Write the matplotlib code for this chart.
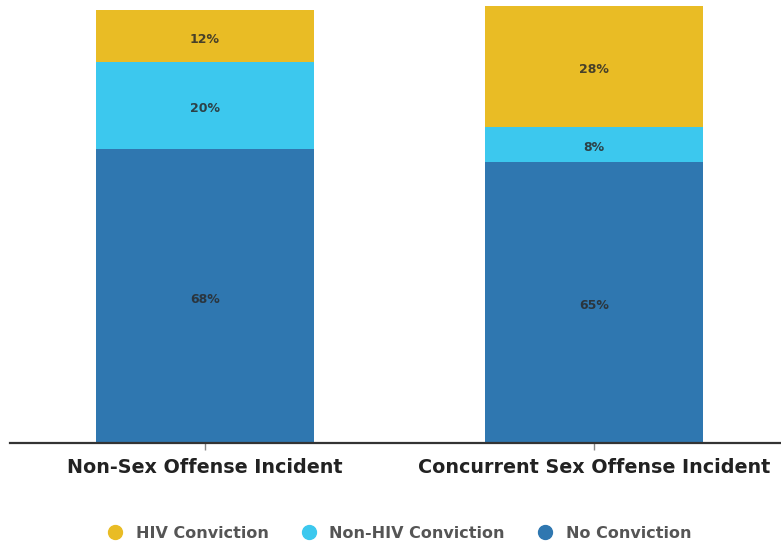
import matplotlib
matplotlib.use("Agg")
import matplotlib.pyplot as plt
from matplotlib.lines import Line2D

categories = ["Non-Sex Offense Incident", "Concurrent Sex Offense Incident"]
series_names = ["No Conviction", "Non-HIV Conviction", "HIV Conviction"]
no_conviction = [68, 65]
non_hiv = [20, 8]
hiv = [12, 28]
legend_order = ["HIV Conviction", "Non-HIV Conviction", "No Conviction"]

colors = {"No Conviction": "#2F77B0", "Non-HIV Conviction": "#3CC8EE", "HIV Conviction": "#E9BC25"}
values = {"No Conviction": no_conviction, "Non-HIV Conviction": non_hiv, "HIV Conviction": hiv}

fig = plt.figure(figsize=(7.81, 5.48), dpi=100)
ax = fig.add_axes([10/781, 105/548, 771/781, 443/548])

x = list(range(len(categories)))
bottoms = [0] * len(categories)
for name in series_names:
    vals = values[name]
    ax.bar(x, vals, width=0.56, bottom=bottoms, color=colors[name], linewidth=0)
    for xi, v, b in zip(x, vals, bottoms):
        ax.annotate(f"{v}%", (xi, b + v / 2), xytext=(0, -2.5), textcoords="offset points",
                    ha="center", va="center", fontsize=9, fontweight="bold",
                    color="#2a2a2a", alpha=0.85)
    bottoms = [b + v for b, v in zip(bottoms, vals)]

ax.set_xlim(-0.501, 1.481)
ax.set_ylim(0, 102.3)
for s in ["top", "right", "left"]:
    ax.spines[s].set_visible(False)
ax.spines["bottom"].set_color("#333333")
ax.spines["bottom"].set_linewidth(1.6)
ax.set_yticks([])
ax.set_xticks(x)
ax.set_xticklabels(categories, fontsize=13.8, fontweight="bold", color="#222222")
ax.tick_params(axis="x", length=5, width=1, color="#888888", pad=6)

handles = [Line2D([0], [0], marker="o", linestyle="", markersize=10,
                  markerfacecolor=colors[n], markeredgecolor=colors[n]) for n in legend_order]
leg = fig.legend(handles, legend_order, loc="center", bbox_to_anchor=(0.506, 15/548),
                 ncol=3, frameon=False, fontsize=11.5, handletextpad=0.3, columnspacing=1.5)
for t in leg.get_texts():
    t.set_color("#555555")
    t.set_fontweight("bold")

fig.savefig("out.png", dpi=100)
